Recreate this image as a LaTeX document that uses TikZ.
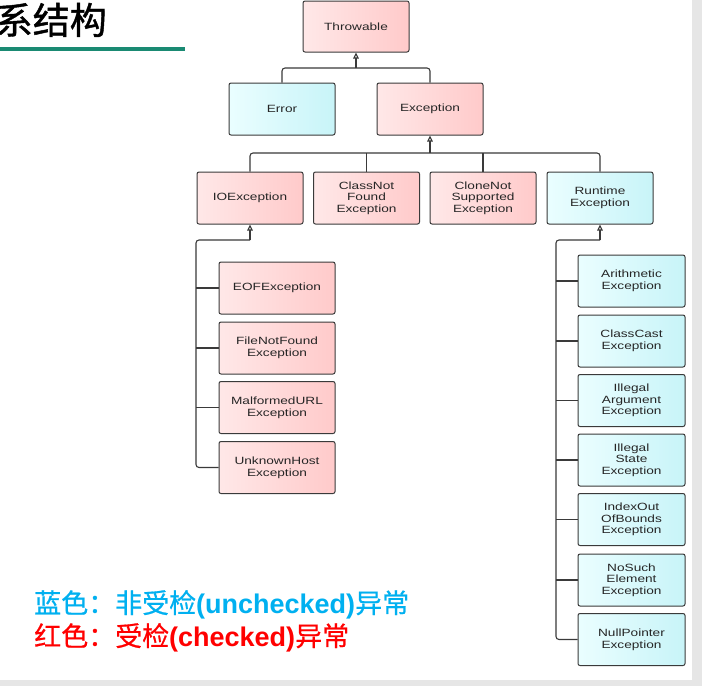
\documentclass[tikz,border=0pt]{standalone}
\usepackage{fontspec}
\usetikzlibrary{arrows.meta}
\newfontfamily\boxfont[FakeStretch=1.3]{Liberation Sans}
\newfontfamily\latf{Liberation Sans}
\newfontfamily\cjk[FakeBold=0.6]{Noto Sans CJK SC}
\newfontfamily\cjkt[FakeBold=1.2]{Noto Sans CJK SC}
\definecolor{pinkL}{HTML}{FFE8E8}
\definecolor{pinkD}{HTML}{FFCACA}
\definecolor{cyanL}{HTML}{EAFEFF}
\definecolor{cyanD}{HTML}{C8F4F8}
\definecolor{edge}{HTML}{3A3A3A}
\definecolor{txt}{HTML}{262626}
\definecolor{teal}{HTML}{1A8A73}
\definecolor{band}{HTML}{E6E6E6}
\definecolor{blueT}{HTML}{00B0F0}
\tikzset{
  box/.style={rectangle, rounded corners=2pt, draw=edge, line width=1pt,
    minimum width=106pt, minimum height=52pt, align=center, inner sep=1pt,
    text=txt, font=\boxfont\fontsize{10.5}{11.7}\selectfont},
  chk/.style={box, left color=pinkL, right color=pinkD},
  unc/.style={box, left color=cyanL, right color=cyanD},
  wideL/.style={minimum width=116pt},
  wideR/.style={minimum width=107pt},
  conn/.style={draw=edge, line width=1.1pt, rounded corners=3pt},
  inh/.style={draw=edge, line width=1.1pt, -{Triangle[open, length=6pt, width=5.5pt]}}
}
\begin{document}
\begin{tikzpicture}[x=1pt, y=-1pt]
\useasboundingbox (0,0) rectangle (702,686);
\clip (0,0) rectangle (702,686);
\fill[white] (0,0) rectangle (702,686);
\fill[band] (692,0) rectangle (702,686);
\fill[band] (0,680) rectangle (702,686);

% title
\node[anchor=base east, inner sep=0pt, font=\cjkt\fontsize{37}{37}\selectfont] (title) at (107,34) {系结构};
\fill[teal] (0,47) rectangle (185,51);

% top levels
\node[chk, minimum height=51pt] (thr) at (356,26.5) {Throwable};
\node[unc] (err) at (282,109) {Error};
\node[chk] (exc) at (430,109) {Exception};

\node[chk] (io) at (250,198) {IOException};
\node[chk] (cnf) at (366.5,198) {ClassNot\\Found\\Exception};
\node[chk] (cln) at (483,198) {CloneNot\\Supported\\Exception};
\node[unc] (rt) at (600,198) {Runtime\\Exception};

% left column
\node[chk, wideL] (eof) at (277,288) {EOFException};
\node[chk, wideL] (fnf) at (277,348) {FileNotFound\\Exception};
\node[chk, wideL] (mal) at (277,407.5) {MalformedURL\\Exception};
\node[chk, wideL] (unk) at (277,467.5) {UnknownHost\\Exception};

% right column
\node[unc, wideR] (ari) at (631.5,281) {Arithmetic\\Exception};
\node[unc, wideR] (ccs) at (631.5,341) {ClassCast\\Exception};
\node[unc, wideR] (iae) at (631.5,400.5) {Illegal\\Argument\\Exception};
\node[unc, wideR] (ise) at (631.5,460) {Illegal\\State\\Exception};
\node[unc, wideR] (ioob) at (631.5,519.5) {IndexOut\\OfBounds\\Exception};
\node[unc, wideR] (nse) at (631.5,580) {NoSuch\\Element\\Exception};
\node[unc, wideR] (npe) at (631.5,639.5) {NullPointer\\Exception};

% connectors: Throwable
\coordinate (j1) at (356,68);
\draw[conn] (err.north) |- (j1) -| (exc.north);
\draw[inh] (j1) -- (thr.south);

% Exception
\coordinate (j2) at (430,153);
\draw[conn] (io.north) |- (j2) -| (rt.north);
\draw[conn] (cnf.north) -- (cnf.north |- j2);
\draw[conn] (cln.north) -- (cln.north |- j2);
\draw[inh] (j2) -- (exc.south);

% IOException
\coordinate (j3) at (250,240);
\coordinate (l3) at (196,240);
\draw[conn] (unk.west) -| (l3) -- (j3);
\draw[conn] (eof.west) -- (eof.west -| l3);
\draw[conn] (fnf.west) -- (fnf.west -| l3);
\draw[conn] (mal.west) -- (mal.west -| l3);
\draw[inh] (j3) -- (io.south);

% RuntimeException
\coordinate (j4) at (600,240);
\coordinate (l4) at (556,240);
\draw[conn] (npe.west) -| (l4) -- (j4);
\foreach \n in {ari,ccs,iae,ise,ioob,nse}{
  \draw[conn] (\n.west) -- (\n.west -| l4);
}
\draw[inh] (j4) -- (rt.south);

% legend
\node[anchor=base west, inner sep=0pt, text=blueT, font=\cjk\fontsize{27}{27}\selectfont] (leg1) at (34,613)
  {蓝色：非受检{\latf\bfseries (unchecked)}异常};
\node[anchor=base west, inner sep=0pt, text=red, font=\cjk\fontsize{27}{27}\selectfont] (leg2) at (34,646)
  {红色：受检{\latf\bfseries (checked)}异常};
\end{tikzpicture}
\end{document}
